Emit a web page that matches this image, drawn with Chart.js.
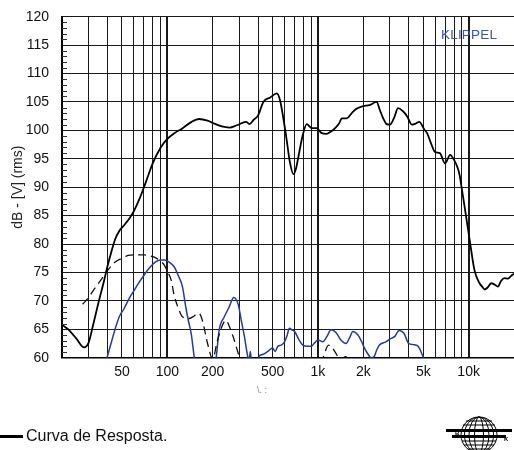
<!DOCTYPE html>
<html><head><meta charset="utf-8">
<script src="https://cdn.jsdelivr.net/npm/chart.js@4"></script>
<style>
html,body{margin:0;padding:0;background:#fff;}
#wrap{position:relative;width:514px;height:450px;overflow:hidden;font-family:"Liberation Sans",Arial,sans-serif;}
#c{position:absolute;left:0;top:0;}
.klippel{position:absolute;left:441px;top:27px;font-size:13.5px;color:#3d55a8;letter-spacing:0.2px;}
.xt{position:absolute;left:257px;top:385px;font-size:9px;color:#888;}
.leg{position:absolute;left:0;top:427px;font-size:16px;color:#111;white-space:nowrap;}
.leg i{display:inline-block;width:23px;height:3px;background:#000;vertical-align:middle;margin-right:3px;}
.logo{position:absolute;left:446px;top:416px;}
</style></head>
<body>
<div id="wrap">
<canvas id="c" width="514" height="450"></canvas>
<div class="klippel">KLIPPEL</div>
<div class="xt">\. :</div>
<div class="leg"><i></i>Curva de Resposta.</div>
<svg class="logo" width="66" height="38" viewBox="0 0 66 38">
  <g fill="none" stroke="#000" stroke-width="1">
    <circle cx="33" cy="19" r="18"/>
    <ellipse cx="33" cy="19" rx="4.5" ry="18"/>
    <ellipse cx="33" cy="19" rx="10" ry="18"/>
    <ellipse cx="33" cy="19" rx="14.5" ry="18"/>
    <line x1="20" y1="5" x2="46" y2="5"/>
    <line x1="17" y1="9" x2="49" y2="9"/>
    <line x1="16" y1="25" x2="50" y2="25"/>
    <line x1="18" y1="29" x2="48" y2="29"/>
    <line x1="22" y1="33" x2="44" y2="33"/>
  </g>
  <rect x="0" y="13" width="66" height="3" fill="#000"/>
  <rect x="6" y="19" width="54" height="3" fill="#000"/>
  <text x="9" y="19" font-size="6" font-weight="bold" font-family="Liberation Sans">B</text>
  <text x="58" y="25" font-size="6" font-weight="bold" font-family="Liberation Sans">K</text>
</svg>
</div>
<script>
// ---- axis definitions ----
const xGridValues = [20,30,40,50,60,70,80,90,100,200,300,400,500,600,700,800,900,1000,2000,3000,4000,5000,6000,7000,8000,9000,10000,20000];
const xMajorGrid = [100,1000,10000];
const xTickValues = [50,100,200,500,1000,2000,5000,10000];
const xTickLabels = ['50','100','200','500','1k','2k','5k','10k'];
const yTickValues = [60,65,70,75,80,85,90,95,100,105,110,115,120];
const yMinorTickValues = [61,62,63,64,66,67,68,69,71,72,73,74,76,77,78,79,81,82,83,84,86,87,88,89,91,92,93,94,96,97,98,99,101,102,103,104,106,107,108,109,111,112,113,114,116,117,118,119];

// ---- series: frequency response (black solid) ----
const respFreq = [20,22,25,28,30,32,35,38,40,42.5,45,48,52,56,60,65,70,75,80,90,100,110,125,145,163,185,205,230,258,290,333,351,375,400,434,482,533,560,590,620,650,687,715,742,790,842,910,980,1060,1140,1220,1300,1380,1440,1550,1670,1800,1950,2220,2450,2580,2710,2850,3000,3200,3400,3650,3900,4200,4450,4700,5090,5300,5650,5970,6440,6970,7540,8000,8400,8700,9000,9400,10160,10930,11800,12300,12770,13400,14100,14800,15650,16400,17300,18200,19000,20000];
const respDb   = [65.8,65.0,63.3,61.8,62.6,65.5,69.8,73.5,76.0,78.6,80.8,82.3,83.4,84.5,85.8,87.8,90.0,92.2,94.2,96.9,98.5,99.4,100.3,101.5,102.0,101.7,101.2,100.7,100.5,100.9,101.5,101.1,101.9,102.6,105.0,105.8,106.5,105.3,102.0,98.3,94.5,92.3,93.3,95.4,99.0,101.1,100.4,100.4,99.5,99.4,99.8,100.4,101.2,102.1,102.1,103.0,103.8,104.2,104.5,105.0,103.5,102.1,101.1,101.0,102.2,103.9,103.4,102.5,101.0,101.2,101.5,100.1,99.5,97.6,96.2,96.0,94.2,95.7,94.8,93.6,92.2,89.8,86.6,80.7,75.4,73.1,72.5,72.0,72.4,73.1,72.9,72.5,73.5,74.0,73.9,74.3,74.8];

// ---- series: dashed curve ----
const h2Freq = [27.4,30,33,36.3,40,44.4,50,55,60.4,70.3,76,82,90,95.5,101,106,111,118,126,140,150,159,166,172,185,200,215,233,245,258,275,293,305,600,1050,1088,1177,1240,1300,1400,1535,1600];
const h2Db   = [69.4,70.6,72.2,73.7,75.3,76.7,77.5,78.0,78.1,78.1,77.9,77.7,77.0,76.3,75.0,73.7,71.0,68.8,67.2,66.9,67.3,67.8,67.5,66.3,62.5,59.8,63.0,65.8,66.6,65.5,63.5,61.1,59.5,null,59.0,60.2,62.2,61.8,61.0,59.8,60.2,59.0];

// ---- series: blue curve ----
const h3Freq = [38,39.8,42.3,45,48,51.8,56,60.4,64,68.7,75,84,90,95.5,103,111,118,126,133,138,144,151,155,205,211,221,239,258,276,296,310,325,342,349,356,362,400,408,434,464,500,520,541,570,600,625,646,670,700,750,793,850,900,950,1000,1076,1150,1220,1320,1418,1536,1620,1705,1840,1950,2035,2150,2250,2360,2450,2550,2820,3060,3250,3450,3720,4000,4300,4620,4980,5200];
const h3Db   = [58,60,62.5,65,67.2,68.7,70.5,71.9,73.0,74.2,75.6,76.9,77.2,77.2,76.8,76.0,74.5,72.5,68.7,66.5,64.3,60,58,58,60,64.9,67.2,69.0,70.6,69.3,66.5,63.7,60.2,59.6,61.1,59,59.5,60.3,60.6,61.1,61.7,61.1,62.0,62.2,62.8,64.0,65.2,64.9,64.6,63.1,62.2,62.0,62.0,62.6,63.1,62.8,63.8,64.9,64.4,63.1,62.5,63.5,64.6,64.0,62.8,61.7,60.6,60.0,60.2,61.3,62.2,62.8,63.4,63.8,64.8,64.3,62.5,62.3,62.0,60.2,59];

const toPts = (f, d) => f.map((x, i) => ({x: x, y: d[i]}));

const minorTicks = {
  id: 'minorTicks',
  afterDatasetsDraw(chart) {
    const ctx = chart.ctx, y = chart.scales.y, left = chart.chartArea.left;
    ctx.save();
    ctx.strokeStyle = '#333';
    ctx.lineWidth = 1;
    yMinorTickValues.forEach(v => {
      const py = Math.round(y.getPixelForValue(v)) + 0.5;
      ctx.beginPath();
      ctx.moveTo(left, py);
      ctx.lineTo(left + 5, py);
      ctx.stroke();
    });
    ctx.restore();
  }
};

const FONT = '"Liberation Sans", Arial, sans-serif';

new Chart(document.getElementById('c'), {
  type: 'line',
  data: {
    datasets: [
      {data: toPts(respFreq, respDb), borderColor: '#000', borderWidth: 1.8, pointRadius: 0, cubicInterpolationMode: 'monotone', clip: 0},
      {data: toPts(h2Freq, h2Db), borderColor: '#111', borderWidth: 1.3, borderDash: [8,5], pointRadius: 0, cubicInterpolationMode: 'monotone', spanGaps: false, clip: 0},
      {data: toPts(h3Freq, h3Db), borderColor: '#2b3a96', borderWidth: 1.5, pointRadius: 0, cubicInterpolationMode: 'monotone', clip: 0}
    ]
  },
  options: {
    responsive: false,
    animation: false,
    devicePixelRatio: 1,
    layout: {padding: {top: 16.7, right: 0, bottom: 0, left: 0}},
    plugins: {legend: {display: false}, tooltip: {enabled: false}},
    scales: {
      x: {
        type: 'logarithmic',
        min: 20, max: 20000,
        afterBuildTicks: s => { s.ticks = xGridValues.map(v => ({value: v})); },
        afterFit: s => { s.height = 92.3; s.paddingLeft = 0; s.paddingRight = 0; },
        ticks: {
          autoSkip: false, maxRotation: 0, padding: 6, color: '#111',
          font: {family: FONT, size: 14},
          callback: v => { const i = xTickValues.indexOf(v); return i >= 0 ? xTickLabels[i] : ''; }
        },
        grid: {
          drawTicks: false, color: '#1a1a1a',
          lineWidth: c => (c.tick && xMajorGrid.includes(c.tick.value)) ? 2 : 1
        },
        border: {display: true, color: '#000', width: 1.5}
      },
      y: {
        min: 60, max: 120,
        afterBuildTicks: s => { s.ticks = yTickValues.map(v => ({value: v})); },
        afterFit: s => { s.width = 62; s.paddingTop = 0; s.paddingBottom = 0; },
        ticks: {padding: 13, color: '#111', font: {family: FONT, size: 14}},
        grid: {drawTicks: false, color: '#1a1a1a', lineWidth: 1},
        border: {display: true, color: '#000', width: 2},
        title: {display: true, text: 'dB - [V] (rms)', color: '#222', font: {family: FONT, size: 14}, padding: {top: 9.6, bottom: 0}}
      }
    }
  },
  plugins: [minorTicks]
});
</script>
</body></html>
